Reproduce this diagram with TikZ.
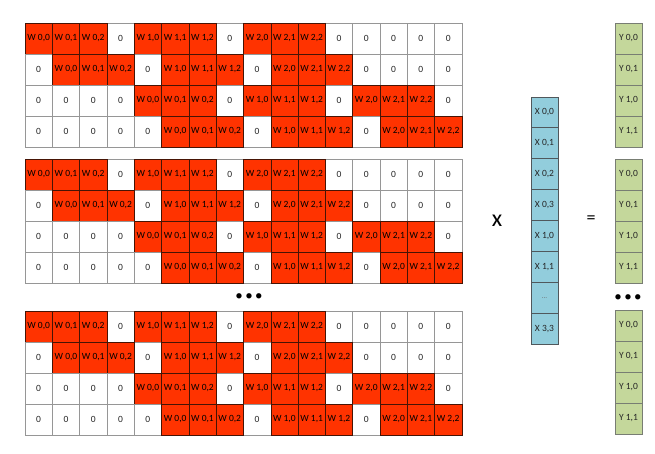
\documentclass[tikz,border=0pt]{standalone}
\usepackage{fontspec}
\setmainfont{Carlito}
\usetikzlibrary{positioning}
\definecolor{wred}{RGB}{255,51,0}
\definecolor{wdark}{RGB}{70,20,5}
\definecolor{zgray}{RGB}{150,150,150}
\definecolor{xblue}{RGB}{146,205,220}
\definecolor{xdark}{RGB}{80,88,92}
\definecolor{ygreen}{RGB}{196,215,155}
\definecolor{ygray}{RGB}{120,125,115}

\begin{document}
\begin{tikzpicture}[
  x=1pt,y=-1pt,
  font=\fontsize{9.5}{11}\selectfont,
  cell/.style={draw,minimum width=27.3pt,minimum height=31pt,inner sep=0pt,outer sep=0pt,text=black!85},
  zcell/.style={cell,draw=zgray,fill=white},
  wcell/.style={cell,draw=wdark,fill=wred,text=black},
  xcell/.style={cell,minimum width=27pt,minimum height=30.9pt,draw=xdark,line width=0.8pt,fill=xblue},
  ycell/.style={cell,minimum width=27pt,draw=ygray,fill=ygreen},
  sym/.style={font=\fontsize{24}{26}\selectfont},
  dots/.style={font=\fontsize{15}{17}\selectfont}
]
\useasboundingbox (0,0) rectangle (655,454);

% ---- weight blocks (zeros first, weights on top) ----
\foreach \b/\t in {1/23,2/159,3/311}{
  \foreach \r/\off in {0/0,1/1,2/4,3/5}{
    \foreach \c in {0,...,15}{
      \pgfmathtruncatemacro\d{\c-\off}
      \pgfmathtruncatemacro\isw{(\d>=0)&&(\d<12)&&(mod(\d,4)<3)}
      \ifnum\isw=0
        \node[zcell] (m\b-\r-\c) at ({25+27.3*(\c+0.5)},{\t+31*(\r+0.5)}) {0};
      \fi
    }
    \foreach \c in {0,...,15}{
      \pgfmathtruncatemacro\d{\c-\off}
      \pgfmathtruncatemacro\isw{(\d>=0)&&(\d<12)&&(mod(\d,4)<3)}
      \pgfmathtruncatemacro\k{int(\d/4)}
      \pgfmathtruncatemacro\j{mod(\d,4)}
      \ifnum\isw=1
        \node[wcell] (m\b-\r-\c) at ({25+27.3*(\c+0.5)},{\t+31*(\r+0.5)}) {W \k,\j};
      \fi
    }
  }
}
\node[dots] (mdots) at (249,297) {•\,•\,•};

% ---- input vector ----
\foreach \i/\lab in {0/{X 0,0},1/{X 0,1},2/{X 0,2},3/{X 0,3},4/{X 1,0},5/{X 1,1},6/{\textcolor{black!60}{\fontsize{7}{8}\selectfont …}},7/{X 3,3}}
  \node[xcell] (x\i) at (544.5,{97+30.9*(\i+0.5)}) {\lab};

% ---- output vectors ----
\foreach \g/\t in {1/23,2/159,3/310}{
  \foreach \i/\lab in {0/{Y 0,0},1/{Y 0,1},2/{Y 1,0},3/{Y 1,1}}
    \node[ycell] (y\g-\i) at (628.5,{\t+31*(\i+0.5)}) {\lab};
}
\node[dots] (ydots) at (628,298) {•\,•\,•};

\node[sym] (times) at (497,221) {x};
\node[sym,font=\fontsize{18}{20}\selectfont] (equals) at (591,220) {=};
\end{tikzpicture}
\end{document}
